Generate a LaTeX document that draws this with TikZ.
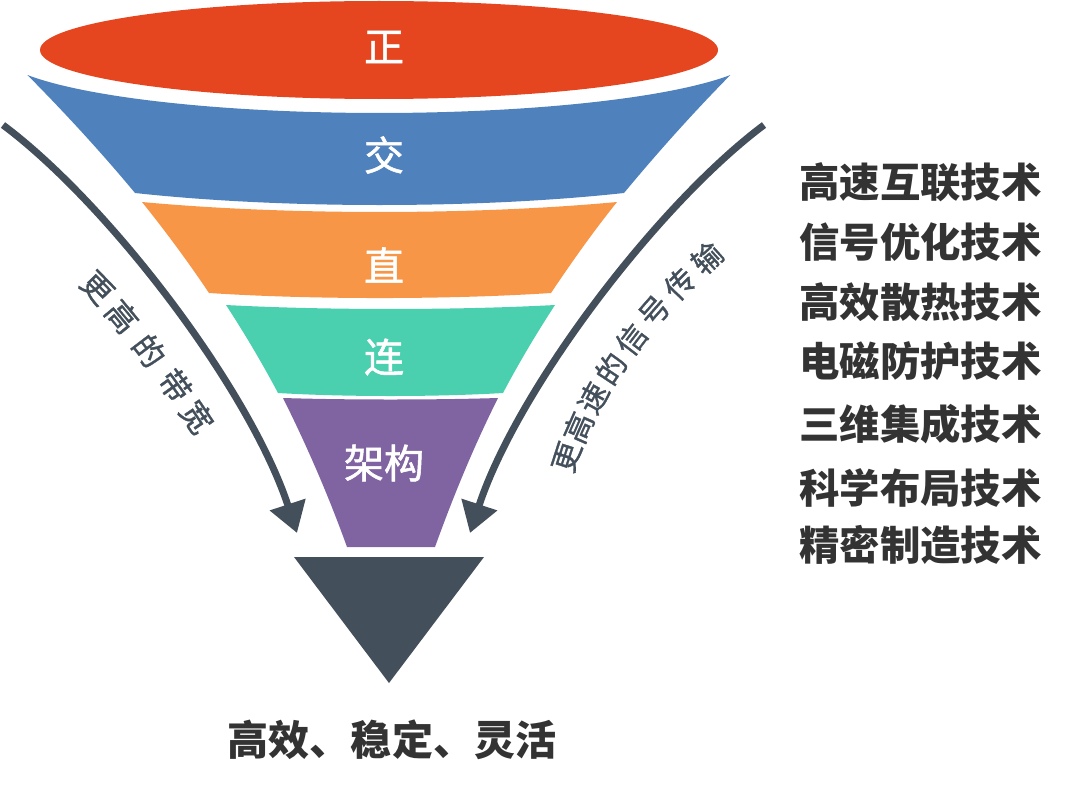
\documentclass[tikz,border=0pt]{standalone}
\usepackage{fontspec}
\setmainfont{Noto Sans CJK SC}
\newfontfamily\cjkmed{Noto Sans CJK SC}[FakeBold=1.3]
\newfontfamily\cjklab{Noto Sans CJK SC}[FakeBold=1.0]
\usetikzlibrary{arrows.meta}
\definecolor{cred}{HTML}{E5461F}
\definecolor{cblue}{HTML}{4F81BD}
\definecolor{corange}{HTML}{F79646}
\definecolor{cteal}{HTML}{4ACFAF}
\definecolor{cpurple}{HTML}{8064A2}
\definecolor{slate}{HTML}{434F5A}
\definecolor{textgray}{HTML}{333333}
\tikzset{
  flabel/.style={text=white, font=\cjkmed\fontsize{30pt}{32pt}\selectfont, inner sep=0pt},
  listitem/.style={text=textgray, font=\fontsize{30.3pt}{32pt}\selectfont\bfseries, inner sep=0pt},
  resitem/.style={text=textgray, font=\fontsize{30.8pt}{32pt}\selectfont\bfseries, inner sep=0pt},
  arclabel/.style={text=slate, font=\cjklab\fontsize{23.5pt}{24pt}\selectfont, inner sep=0pt, sloped},
  arclabelr/.style={text=slate, font=\cjklab\fontsize{22.5pt}{24pt}\selectfont, inner sep=0pt, sloped},
  flowarrow/.style={draw=slate, line width=5.25pt, -{Triangle[length=22.5pt,width=27pt]}},
}
\begin{document}
\begin{tikzpicture}[x=0.75pt,y=0.75pt]
\useasboundingbox (0,0) rectangle (1080,-792);
% top ellipse
\fill[cred] (379,-50) ellipse [x radius=339, y radius=49];
% blue band
\fill[cblue] (27.4,-75) arc[start angle=203.4, end angle=336.6, x radius=383, y radius=63]
  .. controls (691.7,-114.3) and (656.6,-153.7) .. (624,-193)
  .. controls (477,-209) and (282,-209) .. (135,-193)
  .. controls (102.4,-153.7) and (66.3,-114.3) .. (27.4,-75) -- cycle;
% orange band
\fill[corange] (142,-202) .. controls (284.5,-215.3) and (474.5,-215.3) .. (617,-202)
  .. controls (592.7,-232.3) and (571.3,-262.7) .. (551,-293)
  .. controls (448,-299.7) and (311.6,-299.7) .. (209,-293)
  .. controls (188.7,-262.7) and (166.3,-232.3) .. (142,-202) -- cycle;
% teal band
\fill[cteal] (226,-305) .. controls (324.7,-310.3) and (456.3,-310.3) .. (555,-305)
  .. controls (535.9,-334.3) and (518.5,-363.7) .. (503,-393)
  .. controls (435.5,-397) and (345.5,-397) .. (278,-393)
  .. controls (262.5,-363.7) and (245.1,-334.3) .. (226,-305) -- cycle;
% purple band
\fill[cpurple] (283,-398) .. controls (347.5,-400) and (433.5,-400) .. (498,-398)
  .. controls (473.2,-447.7) and (452.9,-497.3) .. (435,-547)
  -- (347,-547)
  .. controls (329.1,-497.3) and (307.8,-447.7) .. (283,-398) -- cycle;
% bottom triangle
\fill[slate] (294,-557) -- (484,-557) -- (389,-683) -- cycle;

% funnel labels
\node[flabel] (zheng) at (384,-47) {正};
\node[flabel] (jiao) at (384,-155) {交};
\node[flabel] (zhi) at (384,-265) {直};
\node[flabel] (lian) at (384,-357) {连};
\node[flabel] (jiagou) at (384,-463) {架构};

% arrows
\coordinate (la0) at (3,-125);
\coordinate (la1) at (110,-205);
\coordinate (la2) at (250,-390);
\coordinate (la3) at (297,-533);
\draw[flowarrow] (la0) .. controls (la1) and (la2) .. (la3);
\coordinate (ra0) at (764,-125);
\coordinate (ra1) at (657,-205);
\coordinate (ra2) at (517,-390);
\coordinate (ra3) at (470,-533);
\draw[flowarrow] (ra0) .. controls (ra1) and (ra2) .. (ra3);

% arc labels
\path (97,-288) .. controls (128,-320) and (172,-380) .. (197,-417)
  node[arclabel,pos=0] (lt1) {更}
  node[arclabel,pos=0.25] (lt2) {高}
  node[arclabel,pos=0.5] (lt3) {的}
  node[arclabel,pos=0.75] (lt4) {带}
  node[arclabel,pos=1] (lt5) {宽};
\path (567,-457) .. controls (589.2,-388.5) and (641.6,-316.9) .. (707,-258)
  node[arclabelr,pos=0] (rt1) {更}
  node[arclabelr,pos=0.142857] (rt2) {高}
  node[arclabelr,pos=0.285714] (rt3) {速}
  node[arclabelr,pos=0.428571] (rt4) {的}
  node[arclabelr,pos=0.571429] (rt5) {信}
  node[arclabelr,pos=0.714286] (rt6) {号}
  node[arclabelr,pos=0.857143] (rt7) {传}
  node[arclabelr,pos=1] (rt8) {输};

% technology list
\node[listitem, anchor=west] (t1) at (799,-182) {高速互联技术};
\node[listitem, anchor=west] (t2) at (799,-242) {信号优化技术};
\node[listitem, anchor=west] (t3) at (799,-302) {高效散热技术};
\node[listitem, anchor=west] (t4) at (799,-361) {电磁防护技术};
\node[listitem, anchor=west] (t5) at (799,-424) {三维集成技术};
\node[listitem, anchor=west] (t6) at (799,-488) {科学布局技术};
\node[listitem, anchor=west] (t7) at (799,-545) {精密制造技术};

% result
\node[resitem] (result) at (392,-740) {高效、稳定、灵活};
\end{tikzpicture}
\end{document}
